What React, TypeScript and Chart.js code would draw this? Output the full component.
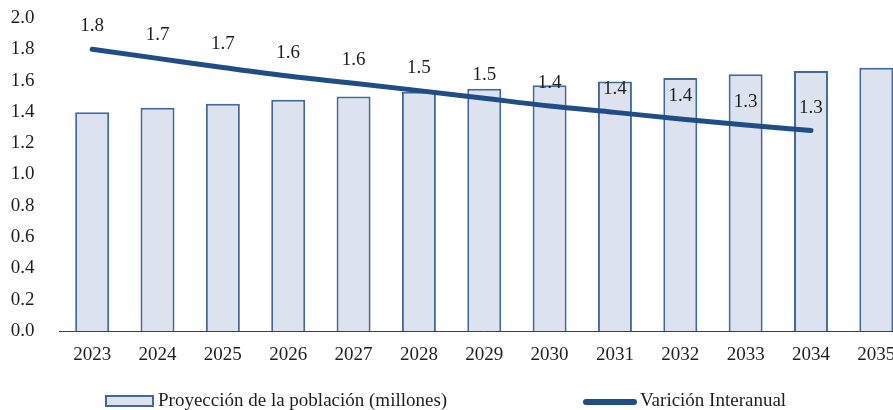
import { useEffect, useRef } from "react";
import { Chart, registerables } from "chart.js";

Chart.register(...registerables);

const years = ["2023", "2024", "2025", "2026", "2027", "2028", "2029", "2030", "2031", "2032", "2033", "2034", "2035"];
const population = [1.397, 1.427, 1.452, 1.477, 1.498, 1.528, 1.548, 1.57, 1.594, 1.617, 1.64, 1.661, 1.682];
const variation = [1.8, 1.742, 1.684, 1.629, 1.583, 1.536, 1.487, 1.438, 1.397, 1.355, 1.316, 1.281, null];
const populationLabel = "Proyección de la población (millones)";
const variationLabel = "Varición Interanual";
const yMin = 0;
const yMax = 2;
const yStep = 0.2;

const FONT_FAMILY = "'Liberation Serif', 'Times New Roman', serif";
const FONT_SIZE = 19;
const TEXT = "#1e1e1e";
const BAR_FILL = "#dce3ef";
const BAR_BORDER = "#41699e";
const LINE_COLOR = "#1f4e86";

const lineLabelPlugin = {
  id: "lineLabels",
  afterDatasetsDraw(chart: any) {
    const ctx = chart.ctx;
    const meta = chart.getDatasetMeta(0);
    const ds = chart.data.datasets[0];
    ctx.save();
    ctx.font = `${FONT_SIZE}px ${FONT_FAMILY}`;
    ctx.fillStyle = TEXT;
    ctx.textAlign = "center";
    ctx.textBaseline = "middle";
    meta.data.forEach((pt: any, i: number) => {
      const v = ds.data[i];
      if (v === null || v === undefined) return;
      ctx.fillText(Number(v).toFixed(1), pt.x, pt.y - 23);
    });
    ctx.restore();
  },
};

const bottomLegendPlugin = {
  id: "bottomLegend",
  afterDraw(chart: any) {
    const ctx = chart.ctx;
    const y = chart.chartArea.bottom + 70;
    ctx.save();
    ctx.font = `${FONT_SIZE}px ${FONT_FAMILY}`;
    ctx.textBaseline = "middle";
    ctx.textAlign = "left";
    // bar item
    ctx.fillStyle = BAR_FILL;
    ctx.fillRect(106, y - 5, 47, 10);
    ctx.strokeStyle = BAR_BORDER;
    ctx.lineWidth = 2;
    ctx.strokeRect(106, y - 5, 47, 10);
    ctx.fillStyle = TEXT;
    ctx.fillText(chart.data.datasets[1].label, 158, y);
    // line item
    ctx.strokeStyle = LINE_COLOR;
    ctx.lineWidth = 6;
    ctx.lineCap = "round";
    ctx.beginPath();
    ctx.moveTo(586, y + 1);
    ctx.lineTo(634, y + 1);
    ctx.stroke();
    ctx.fillStyle = TEXT;
    ctx.fillText(chart.data.datasets[0].label, 640, y);
    ctx.restore();
  },
};

export default function App() {
  const ref = useRef<HTMLCanvasElement>(null);

  useEffect(() => {
    if (!ref.current) return;
    const chart = new Chart(ref.current, {
      type: "bar",
      data: {
        labels: years,
        datasets: [
          {
            type: "line",
            label: variationLabel,
            data: variation as any,
            borderColor: LINE_COLOR,
            backgroundColor: LINE_COLOR,
            borderWidth: 5,
            borderCapStyle: "round",
            pointRadius: 0,
            pointHoverRadius: 0,
            tension: 0.4,
            cubicInterpolationMode: "monotone",
            spanGaps: false,
            order: 0,
          } as any,
          {
            type: "bar",
            label: populationLabel,
            data: population,
            backgroundColor: BAR_FILL,
            borderColor: BAR_BORDER,
            borderWidth: 2,
            barPercentage: 0.52,
            categoryPercentage: 1,
            order: 1,
          } as any,
        ],
      },
      options: {
        responsive: false,
        animation: false,
        layout: { padding: { top: 18, right: 1, left: 0, bottom: 0 } },
        plugins: {
          legend: { display: false },
          tooltip: { enabled: false },
        },
        scales: {
          x: {
            grid: { display: false, drawTicks: false },
            border: { display: true, color: "#404040", width: 1 },
            ticks: {
              color: TEXT,
              padding: 13,
              font: { family: FONT_FAMILY, size: FONT_SIZE },
              maxRotation: 0,
            },
            afterFit: (scale: any) => {
              scale.height = 79;
            },
          },
          y: {
            min: yMin,
            max: yMax,
            grid: { display: false, drawTicks: true, tickLength: 22 },
            border: { display: false },
            ticks: {
              stepSize: yStep,
              color: TEXT,
              padding: 3,
              font: { family: FONT_FAMILY, size: FONT_SIZE },
              callback: (v: any) => Number(v).toFixed(1),
            },
            afterFit: (scale: any) => {
              scale.width = 59.5;
              scale.paddingTop = 8;
              scale.paddingBottom = 8;
            },
          },
        },
      },
      plugins: [lineLabelPlugin, bottomLegendPlugin],
    });
    return () => chart.destroy();
  }, []);

  return (
    <div
      style={{
        position: "absolute",
        left: 0,
        top: 0,
        width: 893,
        height: 410,
        overflow: "hidden",
        background: "#ffffff",
      }}
    >
      <canvas ref={ref} width={910} height={410} style={{ display: "block" }} />
    </div>
  );
}
